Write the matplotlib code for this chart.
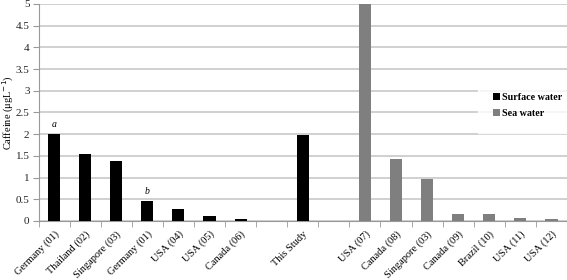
import numpy as np
import matplotlib.pyplot as plt
import matplotlib.transforms as mtransforms

plt.rcParams['font.family'] = ['Liberation Serif', 'DejaVu Serif']

# slots along the x axis (blank slots keep the gaps)
labels = ['Germany (01)', 'Thailand (02)', 'Singapore (03)', 'Germany (01)',
          'USA (04)', 'USA (05)', 'Canada (06)', '', 'This Study', '',
          'USA (07)', 'Canada (08)', 'Singapore (03)', 'Canada (09)',
          'Brazil (10)', 'USA (11)', 'USA (12)']
surface = [2.0, 1.54, 1.37, 0.46, 0.27, 0.12, 0.045, 0, 1.99, 0,
           0, 0, 0, 0, 0, 0, 0]
sea = [0, 0, 0, 0, 0, 0, 0, 0, 0, 0,
       5.0, 1.43, 0.97, 0.16, 0.16, 0.06, 0.045]
notes = {0: 'a', 3: 'b'}

x = np.arange(len(labels))

fig = plt.figure(figsize=(5.67, 2.8), dpi=100)
ax = fig.add_axes([0.068, 0.211, 0.932, 0.775])

ax.bar(x, surface, width=0.39, color='black', label='Surface water', zorder=3)
ax.bar(x, sea, width=0.39, color='#7f7f7f', label='Sea water', zorder=3)

for i, t in notes.items():
    ax.text(x[i], surface[i] + 0.12, t, ha='center', va='bottom',
            fontsize=7, style='italic')

ax.set_xlim(-0.5, len(labels) - 0.5)
ax.set_ylim(0, 5)
ax.set_yticks(np.arange(0, 5.01, 0.5))
ax.set_yticklabels(['0', '0.5', '1', '1.5', '2', '2.5', '3', '3.5', '4', '4.5', '5'])
ax.yaxis.grid(True, color='#c4c4c4', linewidth=1.1, zorder=0)
ax.set_axisbelow(True)

ax.set_xticks(x)
ax.set_xticklabels(labels, rotation=45, ha='right', rotation_mode='anchor',
                   fontsize=7.5)
shift = mtransforms.ScaledTranslation(6 / 100, 0, fig.dpi_scale_trans)
for lab in ax.get_xticklabels():
    lab.set_transform(lab.get_transform() + shift)
ax.set_xticks(np.arange(-0.5, len(labels), 1), minor=True)
ax.tick_params(axis='x', which='major', length=0, pad=6)
ax.tick_params(axis='x', which='minor', length=4, color='#999999')
ax.tick_params(axis='y', length=4, color='#999999', labelsize=8,
               labelcolor='#222222', pad=2.5)

for s in ['top', 'right']:
    ax.spines[s].set_visible(False)
for s in ['left', 'bottom']:
    ax.spines[s].set_color('#999999')

ax.set_ylabel('Caffeine (\u03bcgL$^{-1}$)', fontsize=7.5)
ax.yaxis.set_label_coords(-0.043, 0.5)

leg = fig.legend(loc='center left', bbox_to_anchor=(478 / 567, 1 - 105.5 / 280),
                 frameon=True, fontsize=7.2, handlelength=0.7, handleheight=0.7,
                 handletextpad=0.2, borderaxespad=0, borderpad=1.5,
                 labelspacing=0.7, fancybox=False)
leg.get_frame().set_facecolor('white')
leg.get_frame().set_edgecolor('white')
for t in leg.get_texts():
    t.set_fontweight('bold')

fig.savefig('out.png', dpi=100)
